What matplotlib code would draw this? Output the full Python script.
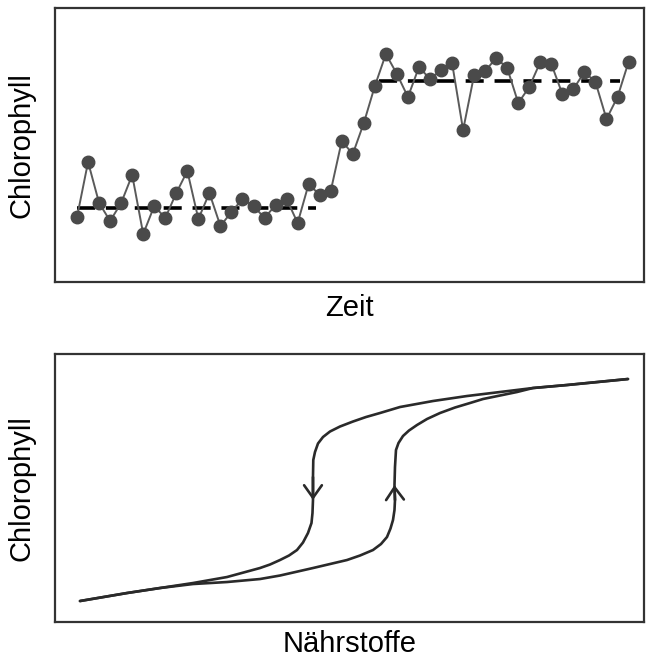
import numpy as np
import matplotlib
matplotlib.use("Agg")
import matplotlib.pyplot as plt

plt.rcParams["font.family"] = ["Liberation Sans", "DejaVu Sans"]

# top panel: chlorophyll time series (arbitrary units)
zeit = np.arange(51)
chlorophyll = [65, 120, 79, 61, 79, 107, 48, 76, 64, 89,
               111, 63, 89, 56, 70, 83, 76, 64, 77, 83,
               59, 98, 87, 91, 141, 128, 159, 196, 228, 208,
               185, 215, 203, 212, 219, 152, 207, 211, 224, 214,
               179, 195, 220, 218, 188, 193, 210, 200, 163, 185,
               220]
# mean levels before / after the regime shift
low_level = 74
low_span = [0, 21.7]
high_level = 201
high_span = [27.4, 49.2]

# bottom panel: hysteresis loop (chlorophyll vs nutrients)
# ascending branch (nutrients rising)
up_x = [25, 72, 105, 138, 172, 205, 225, 258, 292, 305, 318, 326, 332,
        335.5, 338, 339.5, 340, 339.5, 340, 341, 343.5, 348, 354, 362,
        372, 385, 400, 415, 428, 462, 478, 512, 573]
up_y = [21, 29, 34, 38, 40, 43, 46.5, 54, 62, 66.5, 72, 78, 85,
        93.5, 102, 112, 122, 137, 155, 172, 179, 186, 191.5, 197,
        203, 209, 214.5, 219, 223, 230, 234, 237, 243]
# descending branch (nutrients falling)
down_x = [25, 72, 105, 138, 172, 205, 215, 225, 234, 242, 248, 253,
          256.5, 257.5, 258, 258, 258.3, 260, 263, 268, 275, 285, 298,
          311, 325, 345, 378, 412, 445, 478, 512, 573]
down_y = [21, 29, 34, 39, 45, 54, 57.5, 62, 66.5, 72, 79.5, 89,
          99, 109, 122, 145, 162, 170, 178.5, 185, 190.5, 195.5, 200.5,
          205, 209, 215, 221, 226, 230, 234, 237, 243]

fig = plt.figure(figsize=(6.46, 6.59), dpi=100)
ax1 = fig.add_axes([0.0851, 0.5721, 0.9118, 0.4165])
ax2 = fig.add_axes([0.0851, 0.0561, 0.9118, 0.4067])

ax1.plot(zeit, chlorophyll, color="#5a5a5a", lw=1.4, marker="o", ms=9,
         mfc="#4a4a4a", mec="#4a4a4a", zorder=3)
ax1.plot(low_span, [low_level, low_level], color="black", lw=2.6,
         dashes=(5, 3), zorder=2)
ax1.plot(high_span, [high_level, high_level], color="black", lw=2.6,
         dashes=(5, 3), zorder=2)
ax1.set_xlim(-2.0, 51.4)
ax1.set_ylim(0, 274.5)
ax1.set_xlabel("Zeit", fontsize=21, labelpad=9)
ax1.set_ylabel("Chlorophyll", fontsize=21, labelpad=14)

line_kw = dict(color="#2a2a2a", lw=1.9, solid_capstyle="round",
               solid_joinstyle="round")
ax2.plot(up_x, up_y, **line_kw)
ax2.plot(down_x, down_y, **line_kw)
arrow = dict(arrowstyle="->,head_length=0.45,head_width=0.32", color="#2a2a2a",
             lw=1.9, shrinkA=0, shrinkB=0, mutation_scale=20)
ax2.annotate("", xy=(down_x[14], down_y[14]), xytext=(down_x[15], down_y[15]),
             arrowprops=arrow)
ax2.annotate("", xy=(up_x[17], up_y[17]), xytext=(up_x[16], up_y[16]),
             arrowprops=arrow)
ax2.set_xlim(0, 589)
ax2.set_ylim(0, 268)
ax2.set_xlabel("Nährstoffe", fontsize=21, labelpad=6)
ax2.set_ylabel("Chlorophyll", fontsize=21, labelpad=14)

for ax in (ax1, ax2):
    ax.set_xticks([])
    ax.set_yticks([])
    for s in ax.spines.values():
        s.set_color("#333333")
        s.set_linewidth(1.6)

fig.savefig("out.png", dpi=100)
